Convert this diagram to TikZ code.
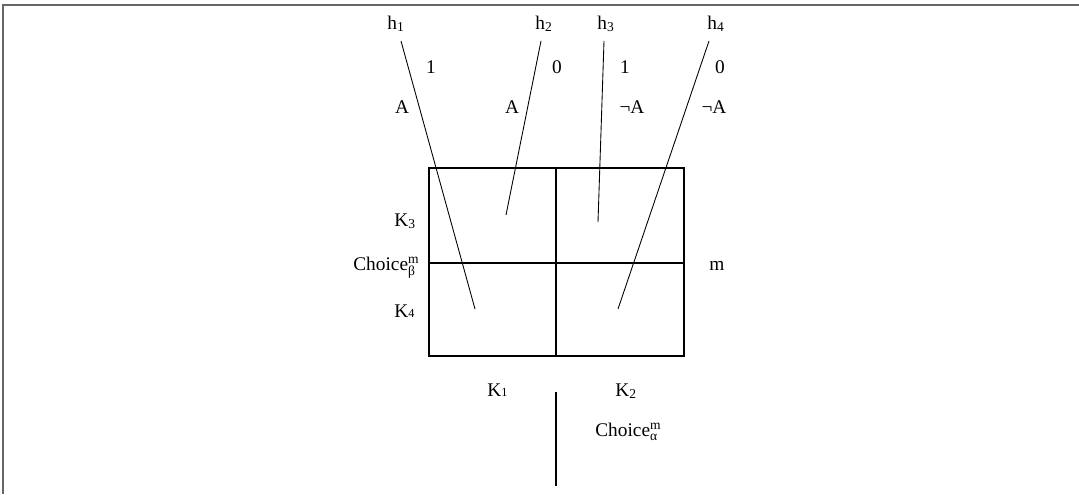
\documentclass[tikz,border=0pt]{standalone}
\usepackage{amsmath}
\usepackage{fontspec}
\setmainfont{Liberation Serif}
\usetikzlibrary{positioning}

\begin{document}
\begin{tikzpicture}[
  x=0.02cm, y=-0.02cm,
  lbl/.style={font=\fontsize{11}{13}\selectfont, inner sep=0pt, anchor=base},
  lblw/.style={lbl, anchor=base west},
  ray/.style={line width=0.5pt},
  grid/.style={line width=0.6pt},
  frame/.style={draw=black!60, line width=1.2pt}
]
  \useasboundingbox (0,0) rectangle (1079,494);
  \draw[frame] (3,494) -- (3,5) -- (1079,5);

  % strategy matrix
  \coordinate (nw) at (429,168);
  \coordinate (se) at (684,356);
  \coordinate (tm) at (556,168);
  \coordinate (bm) at (556,356);
  \coordinate (lm) at (429,263);
  \coordinate (rm) at (684,263);
  \draw[grid] (nw) rectangle (se);
  \draw[grid] (tm) -- (bm);
  \draw[grid] (lm) -- (rm);

  % histories
  \node[lblw] (h1) at (387,29) {h\textsubscript{1}};
  \node[lblw] (h2) at (535,29) {h\textsubscript{2}};
  \node[lblw] (h3) at (597,29) {h\textsubscript{3}};
  \node[lblw] (h4) at (707,29) {h\textsubscript{4}};

  \coordinate (t1) at (401,41);  \coordinate (e1) at (475,309);
  \coordinate (t2) at (541,41);  \coordinate (e2) at (506,215);
  \coordinate (t3) at (604,41);  \coordinate (e3) at (598,222);
  \coordinate (t4) at (709,41);  \coordinate (e4) at (618,309);
  \draw[ray] (t1) -- (e1);
  \draw[ray] (t2) -- (e2);
  \draw[ray] (t3) -- (e3);
  \draw[ray] (t4) -- (e4);

  \node[lbl] (v1) at (431,73) {1};
  \node[lbl] (v2) at (557,73) {0};
  \node[lbl] (v3) at (625,73) {1};
  \node[lbl] (v4) at (720,73) {0};

  \node[lbl] (a1) at (402,113) {A};
  \node[lbl] (a2) at (512,113) {A};
  \node[lbl] (a3) at (632,113) {¬A};
  \node[lbl] (a4) at (714,113) {¬A};

  % row player
  \node[lblw] (k3) at (394,226) {K\textsubscript{3}};
  \node[lblw] (cb) at (353,270) {Choice$^{\text{m}}_{\text{β}}$};
  \node[lblw] (k4) at (394,317) {K{\scriptsize 4}};
  \node[lbl] (m) at (717,270) {m};

  % column player
  \node[lblw] (k1) at (487,396) {K{\scriptsize 1}};
  \node[lblw] (k2) at (615,396) {K\textsubscript{2}};
  \node[lblw] (ca) at (595,436) {Choice$^{\text{m}}_{\text{α}}$};
  \coordinate (st) at (556,392);
  \coordinate (sb) at (556,486);
  \draw[grid] (st) -- (sb);
\end{tikzpicture}
\end{document}
